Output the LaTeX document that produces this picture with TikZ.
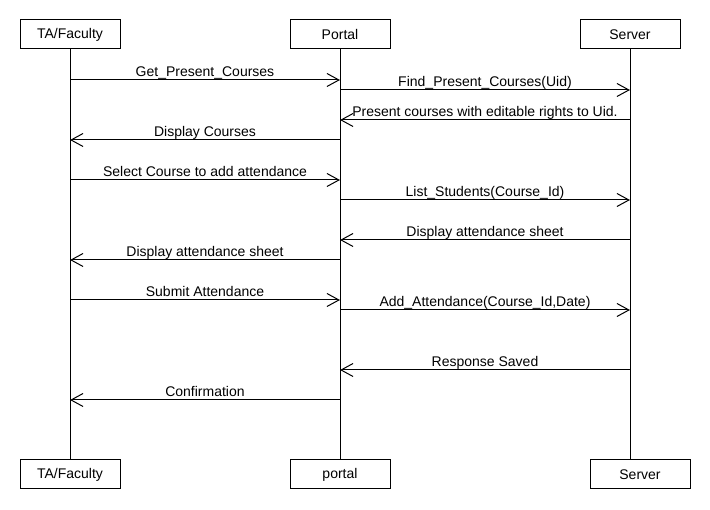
\documentclass[tikz,border=0pt]{standalone}
\usepackage{fontspec}
\setmainfont{Liberation Sans}
\usetikzlibrary{arrows.meta}
\begin{document}
\begin{tikzpicture}[x=1pt,y=-1pt,
  every node/.style={font=\fontsize{14}{16}\selectfont, inner sep=0pt},
  actor/.style={draw, line width=1pt, minimum width=100pt, minimum height=29pt, fill=white},
  life/.style={line width=1pt},
  msg/.style={line width=1pt, -{Straight Barb[length=12pt, width=13pt, line width=1pt]}},
  lbl/.style={anchor=base, yshift=3pt}]
\useasboundingbox[fill=white] (0,0) rectangle (710,510);

% participants (top row)
\node[actor] (ta)     at (70,34.5)  {TA/Faculty};
\node[actor] (portal) at (340,34.5) {Portal};
\node[actor] (server) at (630,34.5) {Server};
% participants (bottom row)
\node[actor] (ta2)     at (70,474.5)  {TA/Faculty};
\node[actor] (portal2) at (340,474.5) {portal};
\node[actor] (server2) at (640,474.5) {Server};

% lifelines
\draw[life] (ta.south) -- (ta2.north);
\draw[life] (portal.south) -- (portal2.north);
\draw[life] (server.south) -- (server.south |- server2.north);

% message rows
\coordinate (r1) at (0,80);
\coordinate (r2) at (0,90);
\coordinate (r3) at (0,120);
\coordinate (r4) at (0,140);
\coordinate (r5) at (0,180);
\coordinate (r6) at (0,200);
\coordinate (r7) at (0,240);
\coordinate (r8) at (0,260);
\coordinate (r9) at (0,300);
\coordinate (r10) at (0,310);
\coordinate (r11) at (0,370);
\coordinate (r12) at (0,400);

% messages
\draw[msg] (ta |- r1) -- node[lbl] {Get\_Present\_Courses} (portal |- r1);
\draw[msg] (portal |- r2) -- node[lbl] {Find\_Present\_Courses(Uid)} (server |- r2);
\draw[msg] (server |- r3) -- node[lbl] {Present courses with editable rights to Uid.} (portal |- r3);
\draw[msg] (portal |- r4) -- node[lbl] {Display Courses} (ta |- r4);
\draw[msg] (ta |- r5) -- node[lbl] {Select Course to add attendance} (portal |- r5);
\draw[msg] (portal |- r6) -- node[lbl] {List\_Students(Course\_Id)} (server |- r6);
\draw[msg] (server |- r7) -- node[lbl] {Display attendance sheet} (portal |- r7);
\draw[msg] (portal |- r8) -- node[lbl] {Display attendance sheet} (ta |- r8);
\draw[msg] (ta |- r9) -- node[lbl] {Submit Attendance} (portal |- r9);
\draw[msg] (portal |- r10) -- node[lbl] {Add\_Attendance(Course\_Id,Date)} (server |- r10);
\draw[msg] (server |- r11) -- node[lbl] {Response Saved} (portal |- r11);
\draw[msg] (portal |- r12) -- node[lbl] {Confirmation} (ta |- r12);
\end{tikzpicture}
\end{document}
